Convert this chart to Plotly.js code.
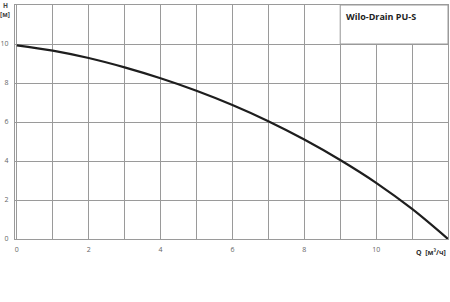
<!DOCTYPE html>
<html>
<head>
<meta charset="utf-8">
<script src="https://cdn.plot.ly/plotly-3.0.1.min.js"></script>
<style>html,body{margin:0;padding:0;background:#fff;}#chart{width:450px;height:302px;}</style>
</head>
<body>
<div id="chart"></div>
<script>
const flowQ = [0, 1, 2, 3, 4, 5, 6, 7, 8, 9, 10, 11, 12];
const headH = [9.93, 9.66, 9.28, 8.80, 8.24, 7.60, 6.87, 6.04, 5.10, 4.05, 2.88, 1.54, 0];
const xTickVals = [0, 2, 4, 6, 8, 10];
const xGridVals = [1, 3, 5, 7, 9, 11];
const yTickVals = [0, 2, 4, 6, 8, 10];
const seriesName = 'Wilo-Drain PU-S';

const gridColor = '#9a9a9a';
const tickFont = {family: 'Open Sans, sans-serif', size: 7, color: '#666'};

const data = [{
  x: flowQ, y: headH, type: 'scatter', mode: 'lines',
  line: {color: '#1e1e1e', width: 2.2, shape: 'spline', smoothing: 1},
  hoverinfo: 'none', showlegend: false
}];

const layout = {
  width: 450, height: 302,
  margin: {l: 15, r: 2, t: 5, b: 63},
  paper_bgcolor: '#fff', plot_bgcolor: '#fff',
  showlegend: false,
  xaxis: {
    range: [-0.05, 12], tickmode: 'array', tickvals: xTickVals,
    showgrid: true, gridcolor: gridColor, gridwidth: 1,
    minor: {tickmode: 'array', tickvals: xGridVals, showgrid: true, gridcolor: gridColor, gridwidth: 1, ticks: ''},
    zeroline: false, showline: true, linecolor: gridColor, linewidth: 1, mirror: true,
    ticks: '', ticklabelstandoff: 4, tickfont: tickFont, fixedrange: true
  },
  yaxis: {
    range: [0, 12], tickmode: 'array', tickvals: yTickVals,
    showgrid: true, gridcolor: gridColor, gridwidth: 1,
    zeroline: false, showline: true, linecolor: gridColor, linewidth: 1, mirror: true,
    ticks: '', ticklabelstandoff: 4, tickfont: tickFont, fixedrange: true
  },
  shapes: [{
    type: 'rect', xref: 'x', yref: 'y', x0: 9, x1: 12, y0: 10, y1: 12,
    fillcolor: '#fff', line: {color: gridColor, width: 1}, layer: 'above'
  }],
  annotations: [
    {text: '<b>' + seriesName + '</b>', xref: 'x', yref: 'y', x: 9.1, y: 11.85,
     xanchor: 'left', yanchor: 'top', showarrow: false,
     font: {family: 'Open Sans, sans-serif', size: 9, color: '#222'}},
    {text: '<b>H</b>', xref: 'paper', yref: 'paper', x: -0.023, y: 1.0,
     xanchor: 'center', yanchor: 'middle', showarrow: false,
     font: {family: 'Open Sans, sans-serif', size: 6.5, color: '#444'}},
    {text: '<b>[м]</b>', xref: 'paper', yref: 'paper', x: -0.023, y: 0.958,
     xanchor: 'center', yanchor: 'middle', showarrow: false,
     font: {family: 'Open Sans, sans-serif', size: 6.5, color: '#444'}},
    {text: '<b>Q</b>  <b>[м³/ч]</b>', xref: 'paper', yref: 'paper', x: 1.0, y: -0.056,
     xanchor: 'right', yanchor: 'middle', showarrow: false,
     font: {family: 'Open Sans, sans-serif', size: 7, color: '#333'}}
  ]
};

Plotly.newPlot('chart', data, layout, {displayModeBar: false, staticPlot: true});
</script>
</body>
</html>
